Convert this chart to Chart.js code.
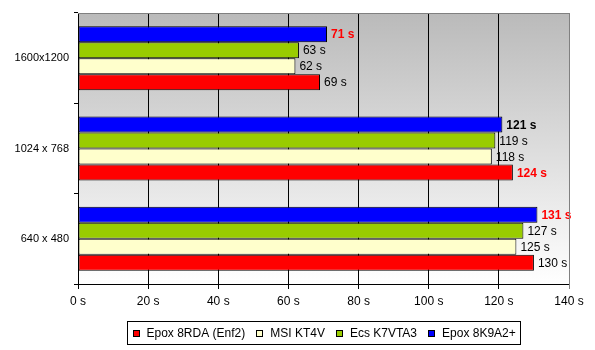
<!DOCTYPE html>
<html><head><meta charset="utf-8">
<style>html,body{margin:0;padding:0;background:#fff;}canvas{display:block;}</style>
<script src="https://cdn.jsdelivr.net/npm/chart.js@4/dist/chart.umd.min.js"></script>
</head><body>
<canvas id="c" width="595" height="350"></canvas>
<script>
const categories = ['1600x1200', '1024 x 768', '640 x 480'];
const seriesNames = ['Epox 8K9A2+', 'Ecs K7VTA3', 'MSI KT4V', 'Epox 8RDA (Enf2)'];
const epox8k9a2 = [71, 121, 131];
const ecsK7vta3 = [63, 119, 127];
const msiKt4v = [62, 118, 125];
const epox8rda = [69, 124, 130];
const xMin = 0, xMax = 140, xStep = 20;
const unit = ' s';

const FONT = 'Arial, "Liberation Sans", sans-serif';
const seriesColors = ['#0000ff', '#99cc00', '#ffffcc', '#ff0000'];
// emphasised value labels (bold, coloured) per series / category
const emphasis = [
  ['#ff0000', '#000000', '#ff0000'],
  [null, null, null],
  [null, null, null],
  [null, '#ff0000', null]
];

const bgPlugin = {
  id: 'bg',
  beforeDraw(chart) {
    const {ctx, chartArea: a} = chart;
    ctx.save();
    ctx.fillStyle = '#ffffff';
    ctx.fillRect(0, 0, chart.width, chart.height);
    const g = ctx.createLinearGradient(0, a.top, 0, a.bottom);
    g.addColorStop(0, '#bababa');
    g.addColorStop(1, '#ffffff');
    ctx.fillStyle = g;
    ctx.fillRect(a.left, a.top, a.right - a.left, a.bottom - a.top);
    ctx.restore();
  }
};

const valueLabels = {
  id: 'valueLabels',
  afterDatasetsDraw(chart) {
    const ctx = chart.ctx;
    chart.data.datasets.forEach((ds, di) => {
      const meta = chart.getDatasetMeta(di);
      meta.data.forEach((bar, i) => {
        const emph = emphasis[di][i];
        ctx.save();
        ctx.font = (emph ? 'bold ' : '') + '12px ' + FONT;
        ctx.fillStyle = emph || '#000000';
        ctx.textAlign = 'left';
        ctx.textBaseline = 'middle';
        ctx.fillText(ds.data[i] + unit, bar.x + 4, bar.y + 1);
        ctx.restore();
      });
    });
  }
};

const frameAndLegend = {
  id: 'frameAndLegend',
  afterDraw(chart) {
    const {ctx, chartArea: a} = chart;
    ctx.save();
    // grey frame top & right
    ctx.strokeStyle = '#808080';
    ctx.lineWidth = 1;
    ctx.beginPath();
    ctx.moveTo(a.left, a.top + 0.5);
    ctx.lineTo(a.right + 1, a.top + 0.5);
    ctx.moveTo(a.right + 0.5, a.top);
    ctx.lineTo(a.right + 0.5, a.bottom + 5);
    ctx.stroke();

    // legend
    ctx.font = '12px ' + FONT;
    const items = chart.data.datasets.map(d => ({label: d.label, color: d.backgroundColor})).reverse();
    const sq = 7, gapIn = 7, gapOut = 11, pad = 5;
    let w = pad * 2;
    items.forEach((it, k) => {
      w += sq + gapIn + ctx.measureText(it.label).width + (k < items.length - 1 ? gapOut : 0);
    });
    w = Math.round(w);
    const cx = (a.left + a.right) / 2;
    const x0 = Math.round(cx - w / 2);
    const top = 321, h = 23;
    ctx.fillStyle = '#ffffff';
    ctx.fillRect(x0, top, w, h);
    ctx.strokeStyle = '#000000';
    ctx.strokeRect(x0 + 0.5, top + 0.5, w, h);
    let px = x0 + pad + 0.5;
    const my = top + h / 2 + 1;
    ctx.textAlign = 'left';
    ctx.textBaseline = 'middle';
    items.forEach(it => {
      const sx = Math.round(px), sy = Math.round(my - 4);
      ctx.fillStyle = it.color;
      ctx.fillRect(sx, sy, sq, sq);
      ctx.strokeStyle = '#000000';
      ctx.strokeRect(sx + 0.5, sy + 0.5, sq - 1, sq - 1);
      px += sq + gapIn;
      ctx.fillStyle = '#000000';
      ctx.fillText(it.label, px, my);
      px += ctx.measureText(it.label).width + gapOut;
    });
    ctx.restore();
  }
};

const seriesData = [epox8k9a2, ecsK7vta3, msiKt4v, epox8rda];

new Chart(document.getElementById('c'), {
  type: 'bar',
  data: {
    labels: categories,
    datasets: seriesNames.map((name, i) => ({
      label: name,
      data: seriesData[i],
      backgroundColor: seriesColors[i],
      borderColor: '#000000',
      borderWidth: 1,
      borderSkipped: false,
      barPercentage: 1.0,
      categoryPercentage: 0.709
    }))
  },
  options: {
    indexAxis: 'y',
    responsive: false,
    animation: false,
    devicePixelRatio: 1,
    layout: {padding: {left: 0, top: 13, right: 26, bottom: 36}},
    plugins: {legend: {display: false}, tooltip: {enabled: false}},
    scales: {
      x: {
        min: xMin, max: xMax,
        ticks: {
          stepSize: xStep,
          callback: v => v + unit,
          font: {family: FONT, size: 12},
          color: '#000000',
          padding: 5,
          maxRotation: 0
        },
        grid: {color: '#000000', lineWidth: 1, tickLength: 5},
        border: {color: '#000000', width: 1},
        afterFit(s) { s.height = 30; }
      },
      y: {
        ticks: {font: {family: FONT, size: 11}, color: '#000000', padding: 5},
        grid: {color: '#000000', drawOnChartArea: false, tickLength: 4, offset: true},
        border: {color: '#000000', width: 1},
        afterFit(s) { s.width = 78; }
      }
    }
  },
  plugins: [bgPlugin, valueLabels, frameAndLegend]
});
</script>
</body></html>
